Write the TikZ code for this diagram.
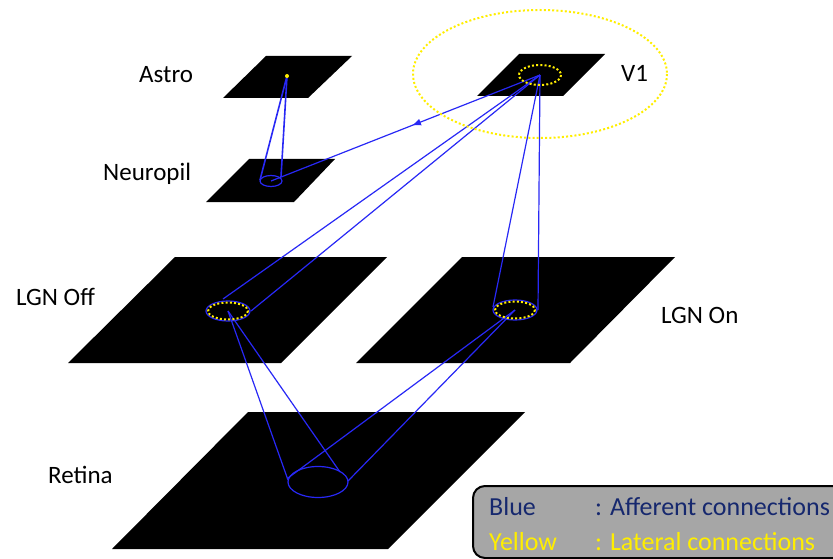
\documentclass[tikz,border=0pt]{standalone}
\usepackage{fontspec}
\setmainfont{Carlito}
\usetikzlibrary{arrows.meta,decorations.markings}
\definecolor{wire}{RGB}{40,40,245}
\definecolor{lat}{RGB}{255,238,0}
\definecolor{navytext}{RGB}{22,40,110}
\definecolor{legendfill}{RGB}{166,166,166}
\begin{document}
\begin{tikzpicture}[x=1pt,y=-1pt,
  sheet/.style={fill=black},
  afferent/.style={draw=wire,line width=1.2pt},
  astrowire/.style={draw=wire,line width=1.6pt},
  lateral/.style={draw=lat,line width=2pt,dash pattern=on 2pt off 2.2pt},
  layerlabel/.style={font=\fontsize{25}{30}\selectfont,text=black,inner sep=0pt,anchor=base west},
  legendtext/.style={font=\fontsize{26}{31}\selectfont,inner sep=0pt,anchor=base west}]
\useasboundingbox (0,0) rectangle (833,559);
\clip (0,0) rectangle (833,559);

% ---- layer sheets ----
\fill[sheet] (266,56) -- (352,56) -- (308,98) -- (223,98) -- cycle;     % Astro
\fill[sheet] (249,159) -- (335,159) -- (294,202) -- (206,202) -- cycle; % Neuropil
\fill[sheet] (519,54) -- (605,54) -- (563,96) -- (477,96) -- cycle;     % V1
\fill[sheet] (175,257) -- (387,257) -- (281,363) -- (68,363) -- cycle;  % LGN Off
\fill[sheet] (462,257) -- (675,257) -- (570,363) -- (356,363) -- cycle; % LGN On
\fill[sheet] (248,412) -- (525,412) -- (388,549) -- (112,549) -- cycle; % Retina

% ---- layer labels ----
\node[layerlabel] (lblAstro) at (139,83) {Astro};
\node[layerlabel] (lblNeuropil) at (103,180) {Neuropil};
\node[layerlabel] (lblV1) at (621,82) {V1};
\node[layerlabel] (lblOff) at (16,305) {LGN Off};
\node[layerlabel] (lblOn) at (661,323) {LGN On};
\node[layerlabel] (lblRetina) at (48,483) {Retina};

% ---- centres of the receptive fields ----
\coordinate (astroC) at (287,76);
\coordinate (npC) at (271,181);
\coordinate (v1C) at (540,75);
\coordinate (offC) at (228,311);
\coordinate (onC) at (515,310);
\coordinate (retC) at (318,482);

% rims of the cones
\coordinate (npL) at (260,180);
\coordinate (npR) at (281,177);
\coordinate (offL) at (223,299);
\coordinate (offR) at (251,311);
\coordinate (onL) at (493,307);
\coordinate (onR) at (538,310);
\coordinate (retOffL) at (288,480);
\coordinate (retOffR) at (340,472);
\coordinate (retOnL) at (288,478);
\coordinate (retOnR) at (348,481);

% ---- afferent receptive fields (cone bases) ----
\draw[afferent] (npC) ellipse [x radius=11, y radius=5.5];
\draw[afferent] (offC) ellipse [x radius=22, y radius=10];
\draw[afferent] (onC) ellipse [x radius=22, y radius=10];
\draw[afferent] (retC) ellipse [x radius=30, y radius=15.5];

% ---- afferent projections ----
\draw[astrowire] (astroC) -- (npL);
\draw[astrowire] (astroC) -- (npR);
\draw[afferent, postaction={decorate},
  decoration={markings, mark=at position 0.476 with {\arrow{Latex[length=9pt,width=7pt]}}}]
  (v1C) -- (npC);
\draw[afferent] (v1C) -- (offL);
\draw[afferent] (v1C) -- (offR);
\draw[afferent] (v1C) -- (onL);
\draw[afferent] (v1C) -- (onR);
\draw[afferent] (offC) -- (retOffL);
\draw[afferent] (offC) -- (retOffR);
\draw[afferent] (onC) -- (retOnL);
\draw[afferent] (onC) -- (retOnR);

% ---- lateral connections ----
\fill[lat] (astroC) circle (2);
\draw[lateral] (v1C) ellipse [x radius=21, y radius=10];
\draw[lateral] (offC) ellipse [x radius=20, y radius=8.5];
\draw[lateral] (onC) ellipse [x radius=20, y radius=8.5];
\draw[lateral] (540,74) ellipse [x radius=127, y radius=64];

% ---- legend ----
\draw[fill=legendfill, line width=2pt, rounded corners=12pt] (473,486) rectangle (860,558);
\node[legendtext, text=navytext] (keyBlue) at (489,515) {Blue};
\node[legendtext, text=navytext] (keyBlueTxt) at (595,515) {: Afferent connections};
\node[legendtext, text=lat] (keyYellow) at (489,550) {Yellow};
\node[legendtext, text=lat] (keyYellowTxt) at (595,550) {: Lateral connections};
\end{tikzpicture}
\end{document}
